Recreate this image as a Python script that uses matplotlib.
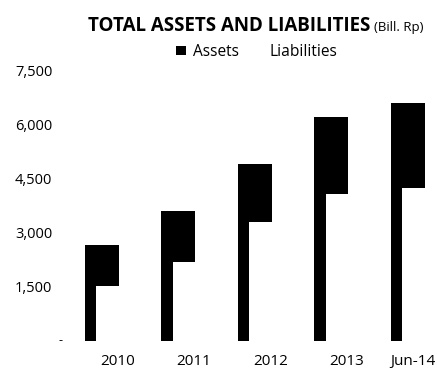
import matplotlib
matplotlib.use("Agg")
import matplotlib.pyplot as plt
import matplotlib.transforms as mtransforms
from matplotlib.patches import Patch
from matplotlib.ticker import FuncFormatter
import numpy as np

plt.rcParams["font.family"] = ["Open Sans", "DejaVu Sans"]

periods = ["2010", "2011", "2012", "2013", "Jun-14"]
assets = [2660, 3600, 4930, 6220, 6620]
liabilities = [1520, 2200, 3300, 4070, 4250]
y_ticks = [0, 1500, 3000, 4500, 6000, 7500]

fig = plt.figure(figsize=(4.37, 3.69), dpi=100)
ax = fig.add_axes([58 / 437, 28 / 369, 379 / 437, 270 / 369])

x = np.arange(len(periods))
ax.bar(x - 0.2, assets, width=0.445, color="black", label="Assets")
# liabilities drawn in white over the assets bar
ax.bar(x - 0.125, liabilities, width=0.30, color="white", label="Liabilities")

ax.set_xlim(-0.774, 4.18)
ax.set_ylim(0, 7500)
ax.set_yticks(y_ticks)
ax.yaxis.set_major_formatter(FuncFormatter(lambda v, p: "" if v == 0 else f"{v:,.0f}"))
ax.text(61 / 437 - 58 / 437, 0, "-", transform=ax.get_yaxis_transform(), ha="center",
        va="center", fontsize=9, color="black")
ax.set_xticks(x)
ax.set_xticklabels(periods)
ax.tick_params(axis="both", length=0, labelsize=10.5, colors="black")
ax.tick_params(axis="x", pad=9.5, labelsize=11)
ax.tick_params(axis="y", pad=4)
for s in ax.spines.values():
    s.set_visible(False)

last = ax.get_xticklabels()[-1]
last.set_transform(last.get_transform() + mtransforms.ScaledTranslation(-0.1, 0, fig.dpi_scale_trans))

fig.text(88 / 437, 1 - 31 / 369, "TOTAL ASSETS AND LIABILITIES", fontsize=13.5, fontweight="bold",
         ha="left", va="baseline")
fig.text(374 / 437, 1 - 31 / 369, "(Bill. Rp)", fontsize=9.5, ha="left", va="baseline")

handles = [Patch(facecolor="black", label="Assets"), Patch(facecolor="white", label="Liabilities")]
fig.legend(handles=handles, loc="center", bbox_to_anchor=(257 / 437, 1 - 52 / 369), ncol=2,
           frameon=False, fontsize=11.2, handlelength=0.65, handleheight=0.5, handletextpad=0.45,
           columnspacing=0.85)

fig.savefig("out.png", dpi=100)
